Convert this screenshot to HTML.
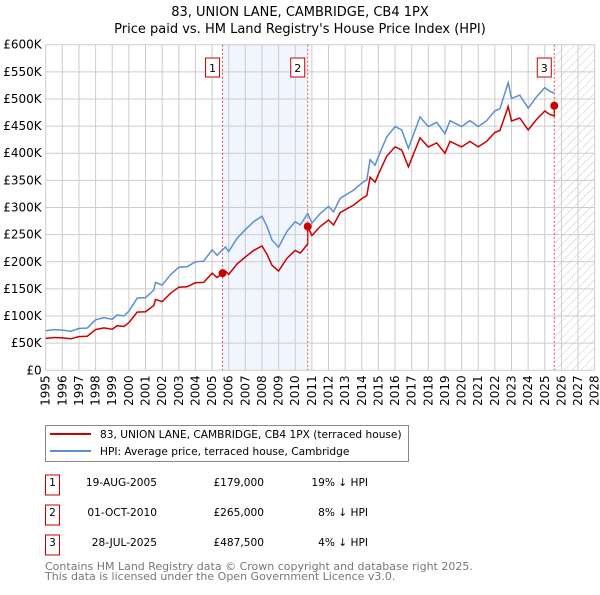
<!DOCTYPE html>
<html><head><meta charset="utf-8"><style>
body{margin:0;background:#fff;width:600px;height:590px;overflow:hidden}
svg text{font-family:"DejaVu Sans","Liberation Sans",sans-serif}
</style></head><body>
<svg id="chart" width="600" height="590" viewBox="0 0 600 590">
<defs>
<pattern id="hatch" width="6" height="6" patternUnits="userSpaceOnUse" patternTransform="rotate(45)">
<line x1="0" y1="0" x2="0" y2="6" stroke="#bbb" stroke-width="0.8"/>
</pattern>
</defs>
<text x="300" y="16" text-anchor="middle" font-size="13">83, UNION LANE, CAMBRIDGE, CB4 1PX</text>
<text x="300" y="33" text-anchor="middle" font-size="13">Price paid vs. HM Land Registry's House Price Index (HPI)</text>
<g id="plot"></g>
<g>
<rect x="45.5" y="425.5" width="363" height="36" fill="#fff" stroke="#888"/>
<line x1="50" y1="434" x2="91" y2="434" stroke="#cc0000" stroke-width="2"/>
<text x="100" y="438" font-size="10.6">83, UNION LANE, CAMBRIDGE, CB4 1PX (terraced house)</text>
<line x1="50" y1="451" x2="91" y2="451" stroke="#5b8fd4" stroke-width="2"/>
<text x="100" y="455" font-size="10.6">HPI: Average price, terraced house, Cambridge</text>
</g>
<g id="table" font-size="10.6"></g>
<text x="45" y="570" font-size="11" fill="#777">Contains HM Land Registry data © Crown copyright and database right 2025.</text>
<text x="45" y="580" font-size="11" fill="#777">This data is licensed under the Open Government Licence v3.0.</text>
</svg>
<script>
const hpiYears=[1995,1995.5,1996,1996.5,1997,1997.5,1998,1998.5,1999,1999.3,1999.7,2000,2000.5,2001,2001.5,2001.6,2002,2002.5,2003,2003.5,2004,2004.5,2005,2005.3,2005.63,2005.8,2006,2006.5,2007,2007.5,2008,2008.3,2008.6,2009,2009.5,2010,2010.3,2010.5,2010.75,2011,2011.5,2012,2012.3,2012.7,2013.5,2014,2014.3,2014.5,2014.8,2015,2015.5,2016,2016.4,2016.8,2017.5,2018,2018.5,2019,2019.3,2020,2020.5,2021,2021.5,2022,2022.3,2022.8,2023,2023.5,2024,2024.5,2025,2025.3,2025.57];
const hpiValues=[73,75,74,72,77,78,93,97,94,102,100,109,133,134,148,162,157,176,190,191,200,201,222,212,222,227,219,243,259,274,284,265,240,227,256,274,268,277,289,271,289,302,292,317,332,345,351,388,378,394,430,449,443,409,467,449,457,436,460,449,460,449,460,478,482,530,501,507,483,504,521,514,511];
const saleYears=[2005.63,2010.75,2025.57];
const salePrices=[179000,265000,487500];
const saleDates=["19-AUG-2005","01-OCT-2010","28-JUL-2025"];
const salePriceLabels=["£179,000","£265,000","£487,500"];
const salePct=["19% ↓ HPI","8% ↓ HPI","4% ↓ HPI"];
const yTicks=[0,50,100,150,200,250,300,350,400,450,500,550,600];
const xTicks=[1995,1996,1997,1998,1999,2000,2001,2002,2003,2004,2005,2006,2007,2008,2009,2010,2011,2012,2013,2014,2015,2016,2017,2018,2019,2020,2021,2022,2023,2024,2025,2026,2027,2028];

const X0=45.7,X1=594.7,Y0=370.3,Y1=44.7;
const xs=y=>X0+(y-1995)/(2028-1995)*(X1-X0);
const ys=v=>Y0-v/600*(Y0-Y1);
const NS="http://www.w3.org/2000/svg";
const plot=document.getElementById('plot');
function mk(tag,attrs,parent){const e=document.createElementNS(NS,tag);for(const k in attrs)e.setAttribute(k,attrs[k]);(parent||plot).appendChild(e);return e;}

let sh=mk('rect',{x:xs(saleYears[0]),y:Y1,width:xs(saleYears[1])-xs(saleYears[0]),height:Y0-Y1,fill:'#eef3fd',opacity:0.8});


let ht=mk('rect',{x:xs(saleYears[2]),y:Y1,width:X1-xs(saleYears[2]),height:Y0-Y1,fill:'url(#hatch)'});



yTicks.forEach(t=>{
  let l=mk('line',{x1:X0,x2:X1,y1:ys(t),y2:ys(t),stroke:'#ccc','stroke-width':1});
  
  
  let tx=mk('text',{x:X0-4,y:ys(t)+4,'text-anchor':'end','font-size':12});
  tx.textContent=t===0?'£0':'£'+t+'K';
  
  
});
xTicks.forEach(t=>{
  let l=mk('line',{x1:xs(t),x2:xs(t),y1:Y1,y2:Y0,stroke:'#ccc','stroke-width':1});
  
  
  let tx=mk('text',{transform:`translate(${xs(t)+4},${Y0+5}) rotate(-90)`,'text-anchor':'end','font-size':12});
  tx.textContent=t;
  
  
});

let hp=hpiYears.map((y,i)=>xs(y).toFixed(1)+','+ys(hpiValues[i]).toFixed(1)).join(' ');
let hl=mk('polyline',{points:hp,fill:'none',stroke:'#5b8fd4','stroke-width':1.5});



function hpiAt(y){for(let i=1;i<hpiYears.length;i++){if(y<=hpiYears[i]){const f=(y-hpiYears[i-1])/(hpiYears[i]-hpiYears[i-1]);return hpiValues[i-1]+f*(hpiValues[i]-hpiValues[i-1]);}}return hpiValues[hpiValues.length-1];}
const ratios=saleYears.map((y,i)=>salePrices[i]/1000/hpiAt(y));
let pts=[];
hpiYears.forEach((y,i)=>{let s=0;for(let k=0;k<saleYears.length;k++)if(y>=saleYears[k]-1e-6)s=k;
  saleYears.forEach((sy,k)=>{if(k>0&&i>0&&hpiYears[i-1]<sy&&y>=sy){pts.push([sy,hpiAt(sy)*ratios[k-1]]);pts.push([sy,hpiAt(sy)*ratios[k]]);}});
  pts.push([y,hpiValues[i]*ratios[s]]);});
let pl=mk('polyline',{points:pts.map(p=>xs(p[0]).toFixed(1)+','+ys(p[1]).toFixed(1)).join(' '),fill:'none',stroke:'#cc0000','stroke-width':1.5});



saleYears.forEach((y,i)=>{
  let v=mk('line',{x1:xs(y),x2:xs(y),y1:Y1,y2:Y0,stroke:'#e05050','stroke-width':1,'stroke-dasharray':'2,2'});
  
  
  let c=mk('circle',{cx:xs(y),cy:ys(salePrices[i]/1000),r:4,fill:'#cc0000'});
  
  
  let b=mk('rect',{x:xs(y)-17,y:58,width:14,height:19,fill:'#fff',stroke:'#cc0000'});
  
  
  let t=mk('text',{x:xs(y)-10,y:72,'text-anchor':'middle','font-size':11});
  t.textContent=i+1;
  
  
});

const tbl=document.getElementById('table');
saleYears.forEach((y,i)=>{
  const cy=485+i*30;
  let b=mk('rect',{x:45.5,y:cy-10,width:14,height:20,fill:'#fff',stroke:'#cc0000'},tbl);
  
  
  let n=mk('text',{x:52.5,y:cy+1,'text-anchor':'middle'},tbl);n.textContent=i+1;
  
  
  let d=mk('text',{x:157,y:cy+1,'text-anchor':'end'},tbl);d.textContent=saleDates[i];
  
  
  let p=mk('text',{x:264,y:cy+1,'text-anchor':'end'},tbl);p.textContent=salePriceLabels[i];
  
  
  let q=mk('text',{x:368,y:cy+1,'text-anchor':'end'},tbl);q.textContent=salePct[i];
  
  
});
</script>
</body></html>
